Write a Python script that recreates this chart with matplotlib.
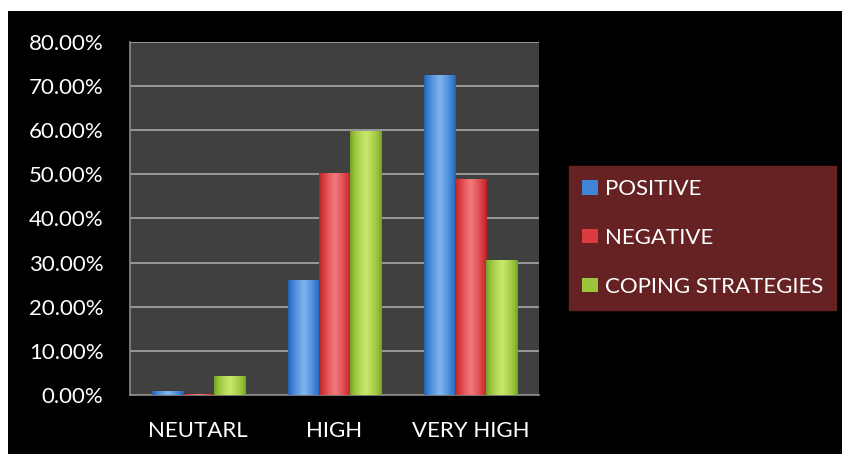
import numpy as np
import matplotlib.pyplot as plt
from matplotlib.patches import Rectangle
from matplotlib.colors import LinearSegmentedColormap

# data
categories = ['NEUTARL', 'HIGH', 'VERY HIGH']
series_names = ['POSITIVE', 'NEGATIVE', 'COPING STRATEGIES']
positive = [1.0, 26.0, 72.5]
negative = [0.2, 50.3, 48.9]
coping = [4.3, 59.8, 30.6]
yticks = [0, 10, 20, 30, 40, 50, 60, 70, 80]

colors = ['#3F84D6', '#DA3B3F', '#9CC53C']
dark = ['#1F5AA8', '#A81F26', '#6E9622']
light = ['#7FB3EC', '#F07A7E', '#C8E86E']

plt.rcParams['font.family'] = ['Lato', 'DejaVu Sans']

fig = plt.figure(figsize=(8.42, 4.54), dpi=100)
fig.patch.set_facecolor('white')
# black backdrop, leaving white strips at top and left
fig.patches.append(Rectangle((8 / 842, 0), 1 - 8 / 842, (454 - 11) / 454,
                             transform=fig.transFigure, facecolor='black',
                             edgecolor='none', zorder=-5))

ax = fig.add_axes([130 / 842, 1 - 395 / 454, (539 - 130) / 842, (395 - 42) / 454])
ax.set_facecolor('#404040')

x = np.arange(len(categories))
w = 0.228
all_series = [positive, negative, coping]
bars_all = []
for i, vals in enumerate(all_series):
    bars = ax.bar(x + (i - 1) * w, vals, width=w, color=colors[i],
                  label=series_names[i], zorder=3)
    bars_all.append(bars)

# cylinder-like shading on each bar
grad = np.concatenate([np.linspace(0, 1, 50), np.linspace(1, 0, 50)])
for i, bars in enumerate(bars_all):
    cmap = LinearSegmentedColormap.from_list('c%d' % i, [dark[i], colors[i], light[i]])
    for b in bars:
        x0, y0 = b.get_x(), b.get_y()
        bw, bh = b.get_width(), b.get_height()
        if bh <= 0:
            continue
        im = ax.imshow(np.tile(grad ** 0.6, (2, 1)), cmap=cmap, aspect='auto',
                       extent=(x0, x0 + bw, y0, y0 + bh), zorder=4,
                       interpolation='bicubic')
        im.set_clip_path(b)

ax.set_xlim(-0.5, 2.5)
ax.set_ylim(0, 80)
ax.set_yticks(yticks)
ax.set_yticklabels(['%.2f%%' % v for v in yticks])
ax.set_xticks(x)
ax.set_xticklabels(categories)
ax.yaxis.grid(True, color='#A8A8A8', linewidth=1.2, zorder=1)
ax.set_axisbelow(True)
ax.tick_params(colors='white', labelsize=16, length=0)
ax.tick_params(axis='y', pad=19)
ax.tick_params(axis='x', pad=19)
for s in ['top', 'right']:
    ax.spines[s].set_visible(False)
for s in ['left', 'bottom']:
    ax.spines[s].set_color('#8C8C8C')
    ax.spines[s].set_linewidth(1.2)

leg = ax.legend(loc='upper left', bbox_to_anchor=(569 / 842, 1 - 166 / 454),
                bbox_transform=fig.transFigure, frameon=True, fancybox=False,
                facecolor='#662222', edgecolor='#662222', framealpha=1,
                fontsize=16, labelcolor='white', handlelength=0.7,
                handleheight=0.6, handletextpad=0.3, labelspacing=1.3,
                borderpad=0.6, borderaxespad=0)

fig.savefig('out.png', dpi=100, facecolor=fig.get_facecolor())
